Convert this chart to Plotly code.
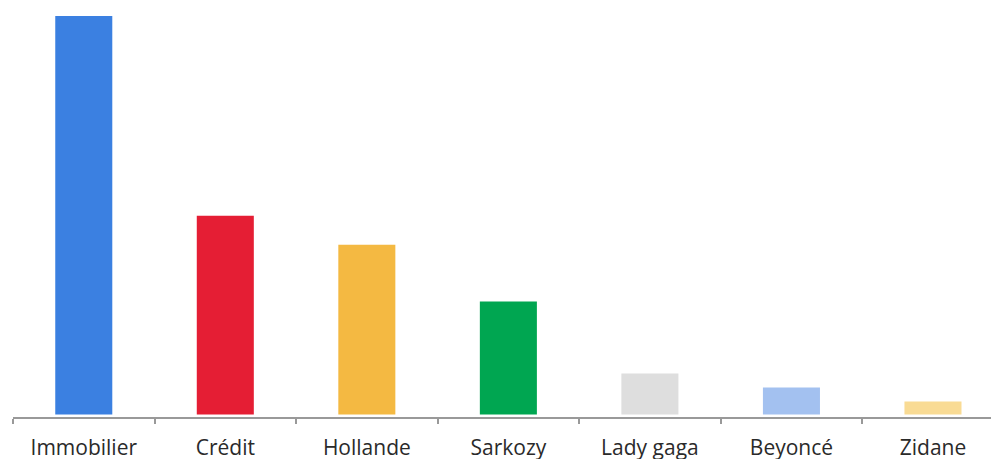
import plotly.graph_objects as go

categories = ["Immobilier", "Crédit", "Hollande", "Sarkozy", "Lady gaga", "Beyoncé", "Zidane"]
values = [100, 49.9, 42.6, 28.4, 10.3, 6.8, 3.3]
colors = ["#3B80E1", "#E51E34", "#F4B942", "#00A651", "#DEDEDE", "#A3C1F0", "#F9DB94"]

fig = go.Figure(go.Bar(
    x=categories,
    y=values,
    marker=dict(color=colors, line=dict(width=0)),
    width=0.403,
))

fig.update_layout(
    width=991, height=459,
    margin=dict(l=13, r=0, t=16, b=42),
    paper_bgcolor="white", plot_bgcolor="white",
    showlegend=False,
    font=dict(family="Open Sans", size=21, color="#2a2a2a"),
    xaxis=dict(
        type="category",
        range=[-0.5, 6.41],
        automargin=False,
        showgrid=False, zeroline=False,
        showline=True, linecolor="#999999", linewidth=2,
        ticks="outside", tickson="boundaries", ticklen=5, tickcolor="#999999", tickwidth=2,
        ticklabelstandoff=11,
    ),
    yaxis=dict(
        range=[-0.6, 100],
        visible=False,
        automargin=False,
        showgrid=False, zeroline=False,
    ),
)

fig.write_html(
    "out.html",
    config={"displayModeBar": False},
    post_script="document.body.style.margin='0';document.body.style.overflow='hidden';",
)
